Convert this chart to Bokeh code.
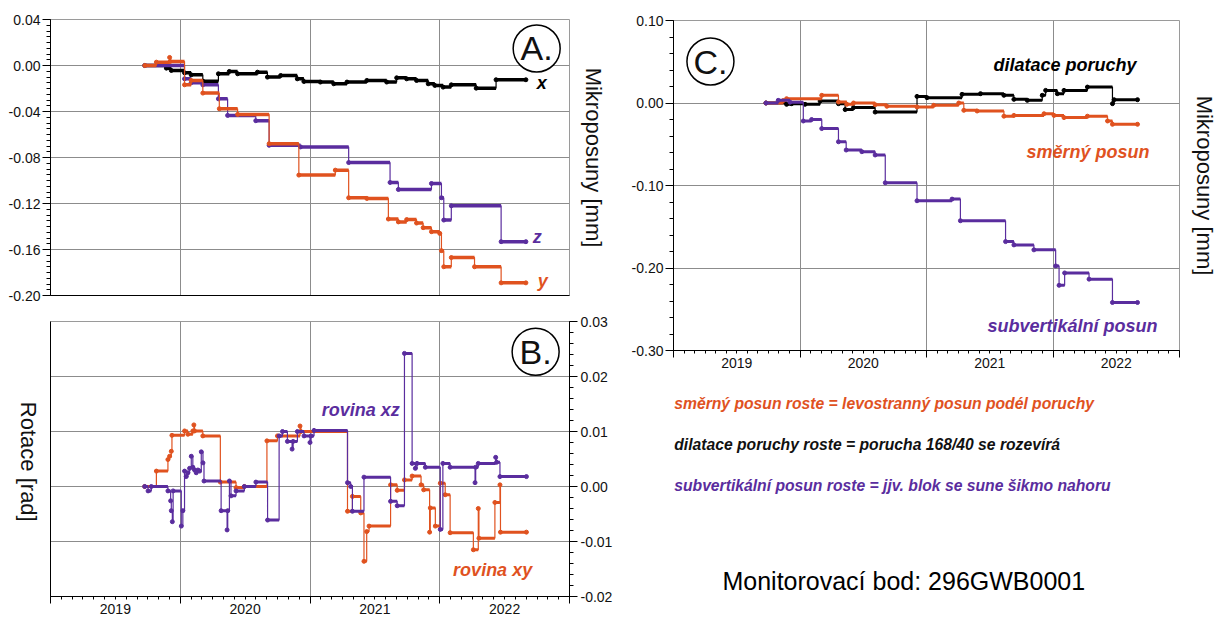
import numpy as np
from bokeh.plotting import figure
from bokeh.layouts import row, column
from bokeh.models import Range1d, FixedTicker, NumeralTickFormatter, LinearAxis, Label
from bokeh.embed import file_html
from bokeh.resources import INLINE

# ---------------- A: mikroposuny x, y, z [mm] ----------------
a_x_t = [2019.727, 2019.893, 2019.931, 2020.033, 2020.084, 2020.174, 2020.294, 2020.378,
         2020.442, 2020.595, 2020.672, 2020.774, 2020.902, 2020.953, 2021.080, 2021.183,
         2021.285, 2021.438, 2021.591, 2021.668, 2021.745, 2021.821, 2021.911, 2021.962,
         2022.026, 2022.089, 2022.281, 2022.434, 2022.664]
a_x_v = [0.0000, -0.0023, -0.0043, -0.0064, -0.0081, -0.0136, -0.0072, -0.0052,
         -0.0072, -0.0058, -0.0101, -0.0087, -0.0116, -0.0139, -0.0144, -0.0159,
         -0.0144, -0.0130, -0.0144, -0.0107, -0.0116, -0.0130, -0.0159, -0.0173,
         -0.0188, -0.0168, -0.0197, -0.0124, -0.0124]

a_z_t = [2019.727, 2020.033, 2020.084, 2020.174, 2020.294, 2020.365, 2020.582, 2020.685,
         2020.927, 2021.298, 2021.617, 2021.681, 2021.936, 2022.013, 2022.031, 2022.089,
         2022.473, 2022.664]
a_z_v = [0.0000, -0.0116, -0.0150, -0.0168, -0.0290, -0.0434, -0.0480, -0.0694,
         -0.0708, -0.0844, -0.1017, -0.1078, -0.1026, -0.1150, -0.1344, -0.1220,
         -0.1532, -0.1532]

a_y_t = [2019.727, 2019.816, 2019.918, 2019.922, 2020.033, 2020.084, 2020.174, 2020.301,
         2020.442, 2020.685, 2020.914, 2021.195, 2021.298, 2021.438, 2021.604, 2021.681,
         2021.745, 2021.821, 2021.872, 2021.936, 2022.000, 2022.013, 2022.031, 2022.089,
         2022.268, 2022.473, 2022.664]
a_y_v = [0.0000, 0.0029, 0.0070, 0.0035, -0.0168, -0.0130, -0.0240, -0.0376,
         -0.0425, -0.0680, -0.0953, -0.0910, -0.1150, -0.1156, -0.1335, -0.1360,
         -0.1340, -0.1370, -0.1410, -0.1445, -0.1460, -0.1610, -0.1750, -0.1670,
         -0.1750, -0.1890, -0.1890]

# ---------------- B: rotace [rad] ----------------
b_xy_t = [2019.726, 2019.816, 2019.905, 2019.918, 2019.931, 2019.936, 2020.033, 2020.059,
          2020.097, 2020.105, 2020.110, 2020.174, 2020.309, 2020.430, 2020.494, 2020.668,
          2020.749, 2020.923, 2020.930, 2021.289, 2021.327, 2021.391, 2021.416, 2021.437,
          2021.455, 2021.621, 2021.672, 2021.728, 2021.787, 2021.856, 2021.876, 2021.922,
          2021.927, 2021.966, 2022.004, 2022.042, 2022.080, 2022.259, 2022.297, 2022.302,
          2022.425, 2022.464, 2022.468, 2022.668]
b_xy_v = [0.0000, 0.0028, 0.0049, 0.0055, 0.0064, 0.0093, 0.0101, 0.0095,
          0.0101, 0.0112, 0.0101, 0.0092, 0.0008, -0.0002, 0.0000, 0.0083,
          0.0092, 0.0110, 0.0100, -0.0045, -0.0018, -0.0048, -0.0136, -0.0082,
          -0.0072, 0.0003, -0.0007, 0.0012, 0.0019, 0.0003, -0.0006, -0.0083,
          -0.0039, -0.0072, 0.0006, -0.0015, -0.0084, -0.0115, -0.0040, -0.0094,
          -0.0029, 0.0003, -0.0083, -0.0083]

b_xz_t = [2019.726, 2019.752, 2019.777, 2019.905, 2019.926, 2019.931, 2019.939, 2019.945,
          2020.008, 2020.020, 2020.033, 2020.046, 2020.059, 2020.072, 2020.085, 2020.097,
          2020.110, 2020.123, 2020.136, 2020.149, 2020.162, 2020.175, 2020.183, 2020.315,
          2020.361, 2020.366, 2020.379, 2020.391, 2020.430, 2020.494, 2020.583, 2020.673,
          2020.762, 2020.788, 2020.826, 2020.862, 2020.870, 2020.903, 2020.954, 2021.000,
          2021.008, 2021.031, 2021.289, 2021.314, 2021.327, 2021.416, 2021.621, 2021.672,
          2021.728, 2021.787, 2021.812, 2021.825, 2021.889, 2022.004, 2022.024, 2022.080,
          2022.272, 2022.277, 2022.297, 2022.431, 2022.438, 2022.464, 2022.668]
b_xz_v = [0.0000, -0.0008, 0.0000, -0.0008, -0.0026, -0.0044, -0.0064, -0.0008,
          -0.0072, -0.0044, 0.0028, 0.0018, 0.0025, 0.0033, 0.0055, 0.0035,
          0.0030, 0.0025, 0.0030, 0.0028, 0.0063, 0.0043, 0.0010, -0.0044,
          -0.0079, -0.0044, 0.0010, -0.0017, -0.0008, 0.0000, 0.0008, -0.0061,
          0.0092, 0.0100, 0.0082, 0.0068, 0.0082, 0.0100, 0.0092, 0.0080,
          0.0092, 0.0102, 0.0007, 0.0000, -0.0045, 0.0017, -0.0027, -0.0035,
          0.0242, 0.0042, 0.0033, 0.0042, 0.0035, -0.0078, 0.0042, 0.0035,
          0.0007, 0.0035, 0.0042, 0.0053, 0.0044, 0.0018, 0.0018]

# ---------------- C: posuny na poruše [mm] ----------------
c_dil_t = [2019.731, 2019.894, 2019.934, 2020.040, 2020.159, 2020.304, 2020.357, 2020.423,
           2020.594, 2020.925, 2021.004, 2021.281, 2021.427, 2021.612, 2021.691, 2021.797,
           2021.915, 2021.942, 2022.034, 2022.087, 2022.272, 2022.470, 2022.483, 2022.668]
c_dil_v = [0.0000, -0.0016, -0.0008, -0.0016, 0.0024, -0.0008, -0.0080, -0.0056,
           -0.0110, 0.0080, 0.0065, 0.0105, 0.0113, 0.0093, 0.0044, 0.0032,
           0.0093, 0.0153, 0.0113, 0.0153, 0.0193, -0.0008, 0.0040, 0.0040]

c_sm_t = [2019.731, 2019.868, 2019.894, 2020.172, 2020.304, 2020.370, 2020.423, 2020.594,
          2020.687, 2020.925, 2021.057, 2021.255, 2021.295, 2021.400, 2021.612, 2021.691,
          2021.929, 2022.008, 2022.087, 2022.272, 2022.431, 2022.470, 2022.668]
c_sm_v = [0.0000, 0.0030, 0.0052, 0.0093, 0.0012, -0.0016, 0.0000, -0.0020,
          -0.0040, -0.0048, -0.0028, 0.0000, -0.0089, -0.0097, -0.0160, -0.0150,
          -0.0130, -0.0150, -0.0177, -0.0160, -0.0218, -0.0258, -0.0258]

c_sv_t = [2019.731, 2019.828, 2019.921, 2020.026, 2020.092, 2020.172, 2020.304, 2020.365,
          2020.489, 2020.594, 2020.674, 2020.925, 2021.202, 2021.268, 2021.625, 2021.691,
          2021.849, 2022.021, 2022.048, 2022.092, 2022.285, 2022.470, 2022.668]
c_sv_v = [0.0000, 0.0032, 0.0010, -0.0218, -0.0200, -0.0310, -0.0470, -0.0570,
          -0.0590, -0.0630, -0.0967, -0.1185, -0.1165, -0.1427, -0.1680, -0.1720,
          -0.1780, -0.1975, -0.2210, -0.2060, -0.2135, -0.2418, -0.2418]

years = [2019, 2020, 2021, 2022]
year_labels = ["2019", "2020", "2021", "2022"]
a_ticks = [0.04, 0.0, -0.04, -0.08, -0.12, -0.16, -0.20]
b_ticks = [0.03, 0.02, 0.01, 0.0, -0.01, -0.02]
c_ticks = [0.10, 0.0, -0.10, -0.20, -0.30]

notes = [
    ("směrný posun roste = levostranný posun podél poruchy", "#E0521F"),
    ("dilatace poruchy roste = porucha 168/40 se rozevírá", "#111111"),
    ("subvertikální posun roste = jjv. blok se sune šikmo nahoru", "#5A2D9E"),
]
station = "Monitorovací bod: 296GWB0001"

ORANGE = "#E0521F"
PURPLE = "#5A2D9E"
INK = "#111111"
FONT = "Liberation Sans"
GRID = "#8c8c8c"

year_bounds = years + [years[-1] + 1]
month_ticks = [float(v) for v in np.round(np.arange(2019, 2023 + 1e-9, 1 / 12), 5)]


def make_fig(w, h, y_lo, y_hi, left, right, top, bottom, **kw):
    p = figure(width=w, height=h, x_range=Range1d(2019, 2023), y_range=Range1d(y_lo, y_hi),
               output_backend="svg", toolbar_location=None,
               min_border_left=left, min_border_right=right,
               min_border_top=top, min_border_bottom=bottom, **kw)
    p.outline_line_color = "#9a9a9a"
    p.background_fill_color = "white"
    p.xgrid.ticker = FixedTicker(ticks=years[1:])
    p.grid.grid_line_color = GRID
    p.grid.grid_line_width = 1
    return p


def value_axis(ax, ticks, step, tick_out=8, standoff=2):
    lo, hi = min(ticks), max(ticks)
    minor = [float(v) for v in np.round(np.arange(lo, hi + 1e-9, step), 4)]
    ax.ticker = FixedTicker(ticks=ticks, minor_ticks=minor)
    ax.formatter = NumeralTickFormatter(format="0.00")
    ax.major_tick_out = tick_out
    ax.major_tick_in = 0
    ax.minor_tick_out = 4
    ax.minor_tick_in = 0
    ax.major_label_standoff = standoff
    ax.major_label_text_font = FONT
    ax.major_label_text_font_size = "14px"
    ax.major_label_text_color = INK
    ax.axis_line_color = "black"
    ax.major_tick_line_color = "black"
    ax.minor_tick_line_color = "black"


def bare_axis(ax, title=None, standoff=12, line="black"):
    ax.ticker = FixedTicker(ticks=[])
    ax.major_tick_out = 0
    ax.major_tick_in = 0
    ax.minor_tick_out = 0
    ax.minor_tick_in = 0
    ax.major_label_text_font_size = "1px"
    ax.major_label_standoff = 0
    ax.axis_line_color = line
    if title:
        ax.axis_label = title
        ax.axis_label_standoff = standoff
        ax.axis_label_text_font = FONT
        ax.axis_label_text_font_size = "22px"
        ax.axis_label_text_font_style = "normal"
        ax.axis_label_text_color = INK


def time_axis(p):
    # inner axis: year boundaries (long) and months (short), no labels
    ax = p.xaxis[0]
    ax.ticker = FixedTicker(ticks=year_bounds, minor_ticks=month_ticks)
    ax.major_label_overrides = {float(v): "" for v in year_bounds}
    ax.major_tick_out = 7
    ax.major_tick_in = 0
    ax.minor_tick_out = 3
    ax.minor_tick_in = 0
    ax.major_label_text_font_size = "1px"
    ax.major_label_standoff = 0
    ax.axis_line_color = "black"
    # outer axis: year names centred in each year
    mids = [y + 0.5 for y in years]
    lab = LinearAxis(ticker=FixedTicker(ticks=mids),
                     major_label_overrides={m: t for m, t in zip(mids, year_labels)})
    lab.axis_line_color = None
    lab.major_tick_line_color = None
    lab.minor_tick_line_color = None
    lab.major_tick_out = 0
    lab.major_tick_in = 0
    lab.minor_tick_out = 0
    lab.minor_tick_in = 0
    lab.major_label_standoff = 0
    lab.major_label_text_font = FONT
    lab.major_label_text_font_size = "14px"
    lab.major_label_text_color = INK
    p.add_layout(lab, "below")


def note(p, x, y, text, size, color=INK, style="bold italic", align="left"):
    p.add_layout(Label(x=x, y=y, text=text, text_font=FONT, text_font_size=f"{size}px",
                       text_font_style=style, text_color=color, text_align=align,
                       text_baseline="middle"))


def badge(p, x, y, letter):
    p.scatter(x=[x], y=[y], marker="circle", size=47, fill_color="white",
              line_color="black", line_width=1.5)
    note(p, x, y, letter, 34, style="normal", align="center")


def series(p, t, v, color, thick):
    p.step(t, v, mode="after", line_color=color, line_width=1.2)
    p.segment(x0=t[:-1], y0=v[:-1], x1=t[1:], y1=v[:-1], line_color=color, line_width=thick)
    p.scatter(t, v, size=4, color=color)


# ---- panel A ----
pa = make_fig(615, 305, -0.20, 0.04, 48, 45, 19, 10)
pa.ygrid.ticker = FixedTicker(ticks=a_ticks[1:-1])
value_axis(pa.yaxis[0], a_ticks, 0.005)
bare_axis(pa.xaxis[0])
ra = LinearAxis()
bare_axis(ra, "Mikroposuny [mm]", standoff=11, line=None)
pa.add_layout(ra, "right")
series(pa, a_x_t, a_x_v, "black", 3.5)
series(pa, a_z_t, a_z_v, PURPLE, 3.5)
series(pa, a_y_t, a_y_v, ORANGE, 3.5)
badge(pa, 2022.747, 0.0148, "A.")
note(pa, 2022.747, -0.0148, "x", 18, "black")
note(pa, 2022.716, -0.1488, "z", 18, PURPLE)
note(pa, 2022.755, -0.1870, "y", 18, ORANGE)

# ---- panel B ----
pb = make_fig(615, 313, -0.02, 0.03, 48, 45, 16, 22, y_axis_location="right")
pb.ygrid.ticker = FixedTicker(ticks=b_ticks[1:-1])
value_axis(pb.yaxis[0], b_ticks, 0.002, tick_out=8, standoff=3)
# left side: plain axis line carrying the quantity name as its only label,
# turned to read from top to bottom (the label ends at its anchor value)
name_end = -0.0064
lb = LinearAxis(ticker=FixedTicker(ticks=[name_end]),
                major_label_overrides={name_end: "Rotace [rad]"})
lb.major_tick_out = 0
lb.major_tick_in = 0
lb.minor_tick_out = 0
lb.minor_tick_in = 0
lb.major_tick_line_color = None
lb.minor_tick_line_color = None
lb.axis_line_color = "black"
lb.major_label_orientation = -np.pi / 2
lb.major_label_standoff = 22
lb.major_label_text_font = FONT
lb.major_label_text_font_size = "22px"
lb.major_label_text_color = INK
pb.add_layout(lb, "left")
time_axis(pb)
series(pb, b_xy_t, b_xy_v, ORANGE, 3)
series(pb, b_xz_t, b_xz_v, PURPLE, 3)
badge(pb, 2022.739, 0.0245, "B.")
note(pb, 2021.090, 0.0140, "rovina xz", 18, PURPLE)
note(pb, 2022.103, -0.0151, "rovina xy", 18, ORANGE)

# ---- panel C ----
pc = make_fig(607, 375, -0.30, 0.10, 58, 43, 20, 25)
pc.ygrid.ticker = FixedTicker(ticks=c_ticks[1:-1])
value_axis(pc.yaxis[0], c_ticks, 0.02)
rc = LinearAxis()
bare_axis(rc, "Mikroposuny [mm]", standoff=12, line=None)
pc.add_layout(rc, "right")
time_axis(pc)
series(pc, c_dil_t, c_dil_v, "black", 3)
series(pc, c_sm_t, c_sm_v, ORANGE, 3)
series(pc, c_sv_t, c_sv_v, PURPLE, 3)
badge(pc, 2019.292, 0.0503, "C.")
note(pc, 2021.530, 0.0455, "dilatace poruchy", 18, "black")
note(pc, 2021.791, -0.0588, "směrný posun", 18, ORANGE)
note(pc, 2021.482, -0.2709, "subvertikální posun", 18, PURPLE)

# ---- explanatory text under panel C, sharing its horizontal frame ----
pt = figure(width=607, height=243, x_range=Range1d(2019, 2023), y_range=Range1d(243, 0),
            output_backend="svg", toolbar_location=None,
            x_axis_location=None, y_axis_location=None,
            min_border_left=58, min_border_right=43, min_border_top=0, min_border_bottom=0)
pt.outline_line_color = None
pt.grid.visible = False
for i, (txt, col) in enumerate(notes):
    note(pt, 2019.006, 28 + i * 41, txt, 15.7, col)
note(pt, 2019.387, 205, station, 25, "black", style="normal")

layout = row(column(pa, pb), column(pc, pt))
open("out.html", "w").write(file_html(layout, INLINE))
